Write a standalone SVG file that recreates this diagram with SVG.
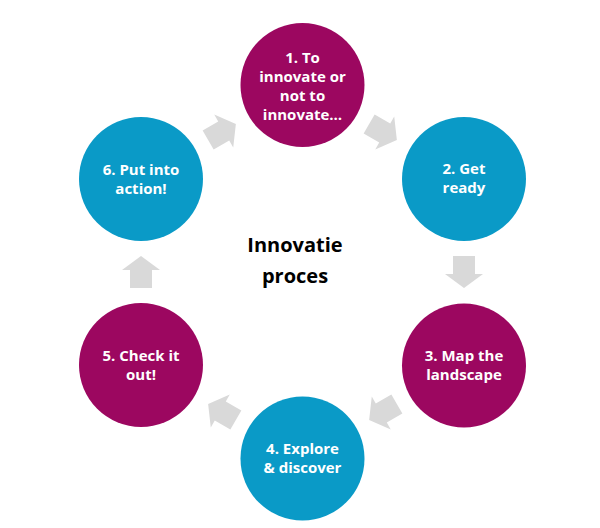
<svg xmlns="http://www.w3.org/2000/svg" width="600" height="528" viewBox="0 0 600 528">
<defs>
<style>
.mag{fill:#9C0760}
.blu{fill:#0A9AC7}
.lbl{font-family:"Open Sans","Liberation Sans",sans-serif;font-weight:bold;font-size:15px;fill:#ffffff;text-anchor:middle}
.ctr{font-family:"Open Sans","Liberation Sans",sans-serif;font-weight:bold;font-size:20px;fill:#000000;text-anchor:middle}
.arr{fill:#D9D9D9}
</style>
<path id="arrow" d="M-16,-11 L2,-11 L2,-19 L16,0 L2,19 L2,11 L-16,11 Z"/>
</defs>
<rect width="600" height="528" fill="#ffffff"/>
<g id="connectors" class="arr">
<use href="#arrow" transform="translate(383,132) rotate(30)"/>
<use href="#arrow" transform="translate(464,272) rotate(90)"/>
<use href="#arrow" transform="translate(383,412) rotate(150)"/>
<use href="#arrow" transform="translate(222,412) rotate(210)"/>
<use href="#arrow" transform="translate(141,272) rotate(270)"/>
<use href="#arrow" transform="translate(222,132) rotate(330)"/>
</g>
<g id="node1">
<circle class="mag" cx="302.5" cy="85" r="62"/>
<text class="lbl"><tspan x="302.5" y="63">1. To</tspan><tspan x="302.5" y="82">innovate or</tspan><tspan x="302.5" y="101">not to</tspan><tspan x="302.5" y="120">innovate…</tspan></text>
</g>
<g id="node2">
<circle class="blu" cx="464" cy="179" r="62"/>
<text class="lbl"><tspan x="464" y="174">2. Get</tspan><tspan x="464" y="193">ready</tspan></text>
</g>
<g id="node3">
<circle class="mag" cx="464" cy="365.5" r="62"/>
<text class="lbl"><tspan x="464" y="361">3. Map the</tspan><tspan x="464" y="380">landscape</tspan></text>
</g>
<g id="node4">
<circle class="blu" cx="302.5" cy="458.5" r="62"/>
<text class="lbl"><tspan x="302.5" y="454">4. Explore</tspan><tspan x="302.5" y="473">&amp; discover</tspan></text>
</g>
<g id="node5">
<circle class="mag" cx="141" cy="365" r="62"/>
<text class="lbl"><tspan x="141" y="361">5. Check it</tspan><tspan x="141" y="380">out!</tspan></text>
</g>
<g id="node6">
<circle class="blu" cx="141" cy="179" r="62"/>
<text class="lbl"><tspan x="141" y="175">6. Put into</tspan><tspan x="141" y="194">action!</tspan></text>
</g>
<g id="center">
<text class="ctr"><tspan x="295" y="252">Innovatie</tspan><tspan x="295" y="283">proces</tspan></text>
</g>
</svg>
